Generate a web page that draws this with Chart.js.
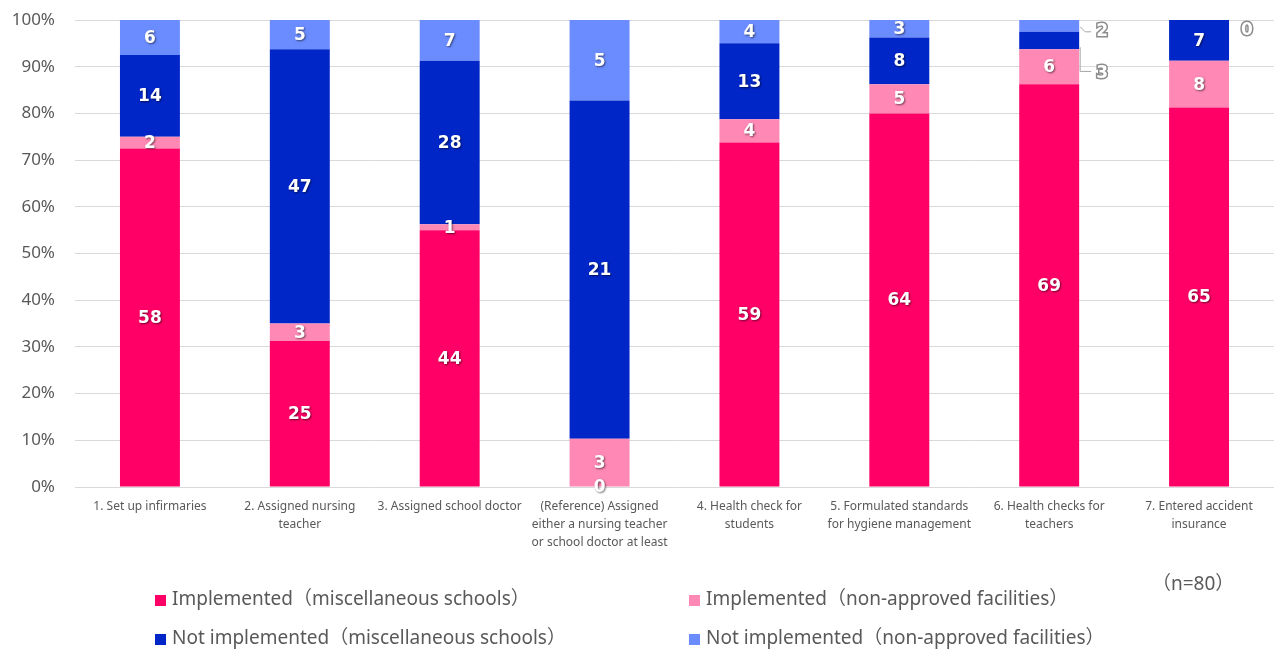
<!DOCTYPE html>
<html>
<head>
<meta charset="utf-8">
<script src="https://cdn.jsdelivr.net/npm/chart.js@4.4.1/dist/chart.umd.min.js"></script>
<style>
    body { margin: 0; background: #fff; }
    .wrap { position: relative; width: 1276px; height: 650px; }
    .legend-item {
        position: absolute;
        font-family: "Noto Sans", "Noto Sans CJK JP", sans-serif;
        font-size: 19px;
        color: #595959;
        white-space: nowrap;
        line-height: 20px;
    }
    .legend-item span.box {
        display: inline-block;
        width: 11px;
        height: 11px;
        margin-right: 6px;
        vertical-align: -1px;
    }
    .note {
        position: absolute;
        left: 1152px;
        top: 568px;
        font-family: "Noto Sans", "Noto Sans CJK JP", sans-serif;
        font-size: 19px;
        color: #595959;
    }
</style>
</head>
<body>
<div class="wrap">
    <canvas id="healthChart" width="1276" height="650"></canvas>
    <div id="legend"></div>
    <div class="note">（n=80）</div>
</div>
<script>
// categories
const categories = [
    "1. Set up infirmaries",
    ["2. Assigned nursing", "teacher"],
    "3. Assigned school doctor",
    ["(Reference) Assigned", "either a nursing teacher", "or school doctor at least"],
    ["4. Health check for", "students"],
    ["5. Formulated standards", "for hygiene management"],
    ["6. Health checks for", "teachers"],
    ["7. Entered accident", "insurance"]
];

// counts per series
const implementedMisc = [58, 25, 44, 0, 59, 64, 69, 65];
const implementedNonApproved = [2, 3, 1, 3, 4, 5, 6, 8];
const notImplementedMisc = [14, 47, 28, 21, 13, 8, 3, 7];
const notImplementedNonApproved = [6, 5, 7, 5, 4, 3, 2, 0];

const seriesNames = [
    "Implemented（miscellaneous schools）",
    "Implemented（non-approved facilities）",
    "Not implemented（miscellaneous schools）",
    "Not implemented（non-approved facilities）"
];
const seriesColors = ["#ff0066", "#ff88b4", "#0026c8", "#6b8cff"];

const yTicks = [0, 10, 20, 30, 40, 50, 60, 70, 80, 90, 100];

const allSeries = [implementedMisc, implementedNonApproved, notImplementedMisc, notImplementedNonApproved];

// column totals, used to turn counts into shares of 100%
const totals = categories.map((c, i) => allSeries.reduce((s, arr) => s + arr[i], 0));

// labels that sit outside the bar: offsets from segment right edge / centre
const callouts = {
    "2-6": { dx: 23, dy: 33, leader: "down" },
    "3-6": { dx: 23, dy: 6, leader: "side" },
    "3-7": { dx: 18, dy: 11, leader: null }
};

const datasets = allSeries.map((arr, k) => ({
    label: seriesNames[k],
    counts: arr,
    data: arr.map((v, i) => v / totals[i] * 100),
    backgroundColor: seriesColors[k],
    borderWidth: 0,
    categoryPercentage: 1,
    barPercentage: 0.4
}));

// Draw count labels on each segment
const countLabels = {
    id: "countLabels",
    afterDatasetsDraw(chart) {
        const ctx = chart.ctx;
        ctx.save();
        ctx.textAlign = "center";
        ctx.textBaseline = "middle";
        chart.data.datasets.forEach((ds, k) => {
            const meta = chart.getDatasetMeta(k);
            meta.data.forEach((bar, i) => {
                const text = String(ds.counts[i]);
                const cy = (bar.y + bar.base) / 2;
                const co = callouts[k + "-" + i];
                if (co) {
                    const right = bar.x + bar.width / 2;
                    const lx = right + co.dx;
                    const ly = cy + co.dy;
                    ctx.shadowColor = "transparent";
                    ctx.strokeStyle = "#a6a6a6";
                    ctx.lineWidth = 1;
                    if (co.leader === "down") {
                        ctx.beginPath();
                        ctx.moveTo(right + 1, bar.base - 2);
                        ctx.lineTo(right + 1, ly - 2);
                        ctx.lineTo(lx - 11, ly - 2);
                        ctx.stroke();
                    } else if (co.leader === "side") {
                        ctx.beginPath();
                        ctx.moveTo(right + 1, cy + 1);
                        ctx.lineTo(right + 6, ly);
                        ctx.lineTo(lx - 11, ly);
                        ctx.stroke();
                    }
                    ctx.font = "bold 17px 'DejaVu Sans', sans-serif";
                    ctx.lineWidth = 3;
                    ctx.strokeStyle = "#8c8c8c";
                    ctx.strokeText(text, lx, ly);
                    ctx.fillStyle = "#ffffff";
                    ctx.fillText(text, lx, ly);
                    return;
                }
                ctx.font = "bold 17px 'DejaVu Sans', sans-serif";
                ctx.shadowColor = "rgba(0,0,0,0.55)";
                ctx.shadowOffsetX = 1;
                ctx.shadowOffsetY = 1;
                ctx.shadowBlur = 2;
                ctx.fillStyle = "#ffffff";
                ctx.fillText(text, bar.x, cy + 1);
            });
        });
        ctx.restore();
    }
};

const chart = new Chart(document.getElementById("healthChart"), {
    type: "bar",
    data: { labels: categories, datasets: datasets },
    options: {
        responsive: false,
        animation: false,
        layout: { padding: { top: 20, right: 2, left: 0, bottom: 0 } },
        plugins: {
            legend: { display: false },
            tooltip: { enabled: false }
        },
        scales: {
            x: {
                stacked: true,
                grid: { display: false },
                border: { display: false },
                ticks: {
                    color: "#595959",
                    font: { family: "'Noto Sans', sans-serif", size: 12, lineHeight: 1.5 },
                    maxRotation: 0,
                    autoSkip: false,
                    padding: 3
                },
                afterFit(scale) { scale.height = 163; }
            },
            y: {
                stacked: true,
                min: 0,
                max: 100,
                afterBuildTicks(scale) { scale.ticks = yTicks.map(v => ({ value: v })); },
                grid: { color: "#d9d9d9", drawTicks: false },
                border: { display: false },
                ticks: {
                    color: "#595959",
                    font: { family: "'Noto Sans', sans-serif", size: 17 },
                    padding: 20,
                    callback: v => v + "%"
                },
                afterFit(scale) {
                    scale.width = 75;
                    scale.paddingTop = 0;
                    scale.paddingBottom = 0;
                }
            }
        }
    },
    plugins: [countLabels]
});

// Legend laid out in two columns under the chart
const legendPos = [[155, 588], [689, 588], [155, 627], [689, 627]];
const legendEl = document.getElementById("legend");
datasets.forEach((ds, k) => {
    const item = document.createElement("div");
    item.className = "legend-item";
    item.style.left = legendPos[k][0] + "px";
    item.style.top = legendPos[k][1] + "px";
    item.innerHTML = '<span class="box" style="background:' + ds.backgroundColor + '"></span>' + ds.label;
    legendEl.appendChild(item);
});
</script>
</body>
</html>
